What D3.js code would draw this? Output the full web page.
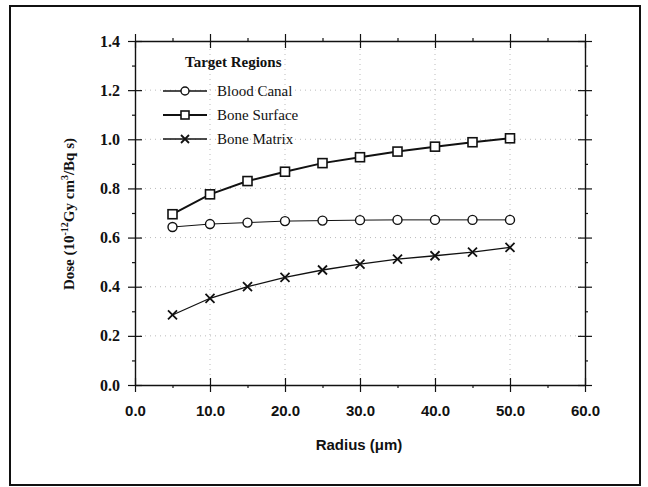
<!DOCTYPE html>
<html>
<head>
<meta charset="utf-8">
<script src="https://cdn.jsdelivr.net/npm/d3@7"></script>
<style>
  body { margin: 0; background: #fff; }
  svg { display: block; }
</style>
</head>
<body>
<script>
// data
const radius = [5, 10, 15, 20, 25, 30, 35, 40, 45, 50];
const bloodCanal = [0.643, 0.655, 0.661, 0.667, 0.669, 0.671, 0.672, 0.672, 0.672, 0.672];
const boneSurface = [0.695, 0.776, 0.830, 0.868, 0.903, 0.927, 0.950, 0.970, 0.988, 1.004];
const boneMatrix = [0.285, 0.353, 0.400, 0.438, 0.468, 0.492, 0.512, 0.526, 0.541, 0.560];
const seriesNames = ['Blood Canal', 'Bone Surface', 'Bone Matrix'];
const xTicks = [0, 10, 20, 30, 40, 50, 60];
const xMinor = [5, 15, 25, 35, 45, 55];
const yTicks = [0, 0.2, 0.4, 0.6, 0.8, 1.0, 1.2, 1.4];
const yMinor = [0.1, 0.3, 0.5, 0.7, 0.9, 1.1, 1.3];

const W = 648, H = 487;
const serif = '"Liberation Serif", "DejaVu Serif", serif';
const sans = '"Liberation Sans", Arial, sans-serif';

const svg = d3.select('body').append('svg')
    .attr('width', W).attr('height', H);

// outer frame
svg.append('rect')
    .attr('x', 10).attr('y', 6)
    .attr('width', 630).attr('height', 479)
    .attr('fill', 'none').attr('stroke', '#111').attr('stroke-width', 2);

const x = d3.scaleLinear().domain([0, 60]).range([135, 585]);
const y = d3.scaleLinear().domain([0, 1.4]).range([385, 41]);

// dotted grid
const grid = svg.append('g').attr('stroke', '#aaa').attr('stroke-width', 0.8)
    .attr('stroke-dasharray', '1,4');
grid.selectAll('.gx').data(xTicks.slice(1, -1)).enter().append('line')
    .attr('x1', d => x(d)).attr('x2', d => x(d))
    .attr('y1', y(0)).attr('y2', y(1.4));
grid.selectAll('.gy').data(yTicks.slice(1, -1)).enter().append('line')
    .attr('x1', x(0)).attr('x2', x(60))
    .attr('y1', d => y(d)).attr('y2', d => y(d));

// axes, major ticks cross the line, minor ticks point out
function styleAxis(g) {
    g.selectAll('path').attr('stroke', '#111').attr('stroke-width', 1.4);
    g.selectAll('line').attr('stroke', '#111').attr('stroke-width', 1.2);
}
const axBottom = svg.append('g').attr('transform', `translate(0,${y(0)})`)
    .call(d3.axisBottom(x).tickValues(xTicks).tickSize(7).tickPadding(13)
        .tickFormat(d3.format('.1f')).tickSizeOuter(0));
axBottom.selectAll('.tick line').attr('y1', -7);
axBottom.selectAll('text').attr('font-family', sans).attr('font-weight', 'bold')
    .attr('font-size', 15).attr('fill', '#111');
styleAxis(axBottom);
svg.append('g').attr('transform', `translate(0,${y(0)})`)
    .call(d3.axisBottom(x).tickValues(xMinor).tickSize(3).tickFormat('').tickSizeOuter(0))
    .call(g => g.select('path').remove()).call(styleAxis);

const axTop = svg.append('g').attr('transform', `translate(0,${y(1.4)})`)
    .call(d3.axisTop(x).tickValues(xTicks).tickSize(7).tickFormat('').tickSizeOuter(0));
axTop.selectAll('.tick line').attr('y1', 7);
styleAxis(axTop);
svg.append('g').attr('transform', `translate(0,${y(1.4)})`)
    .call(d3.axisTop(x).tickValues(xMinor).tickSize(3).tickFormat('').tickSizeOuter(0))
    .call(g => g.select('path').remove()).call(styleAxis);

const axLeft = svg.append('g').attr('transform', `translate(${x(0)},0)`)
    .call(d3.axisLeft(y).tickValues(yTicks).tickSize(7).tickPadding(8)
        .tickFormat(d3.format('.1f')).tickSizeOuter(0));
axLeft.selectAll('.tick line').attr('x1', 7);
axLeft.selectAll('text').attr('font-family', serif).attr('font-weight', 'bold')
    .attr('font-size', 16).attr('fill', '#111');
styleAxis(axLeft);
svg.append('g').attr('transform', `translate(${x(0)},0)`)
    .call(d3.axisLeft(y).tickValues(yMinor).tickSize(3).tickFormat('').tickSizeOuter(0))
    .call(g => g.select('path').remove()).call(styleAxis);

const axRight = svg.append('g').attr('transform', `translate(${x(60)},0)`)
    .call(d3.axisRight(y).tickValues(yTicks).tickSize(7).tickFormat('').tickSizeOuter(0));
axRight.selectAll('.tick line').attr('x1', -7);
styleAxis(axRight);
svg.append('g').attr('transform', `translate(${x(60)},0)`)
    .call(d3.axisRight(y).tickValues(yMinor).tickSize(3).tickFormat('').tickSizeOuter(0))
    .call(g => g.select('path').remove()).call(styleAxis);

// axis titles
svg.append('text')
    .attr('x', 359).attr('y', 450)
    .attr('text-anchor', 'middle')
    .attr('font-family', sans).attr('font-weight', 'bold').attr('font-size', 15)
    .attr('fill', '#111')
    .text('Radius  (\u03bcm)');

const yt = svg.append('text')
    .attr('transform', 'translate(74,214) rotate(-90)')
    .attr('text-anchor', 'middle')
    .attr('font-family', serif).attr('font-weight', 'bold').attr('font-size', 15)
    .attr('fill', '#111');
yt.append('tspan').text('Dose (10');
yt.append('tspan').attr('font-size', 10).attr('dy', -6).text('-12');
yt.append('tspan').attr('dy', 6).text('Gy cm');
yt.append('tspan').attr('font-size', 10).attr('dy', -6).text('3');
yt.append('tspan').attr('dy', 6).text('/Bq s)');

// markers
function drawMarker(g, kind, size) {
    const r = size / 2;
    if (kind === 0) {
        g.append('circle').attr('r', r).attr('fill', '#fff')
            .attr('stroke', '#111').attr('stroke-width', 1.4);
    } else if (kind === 1) {
        g.append('rect').attr('x', -r).attr('y', -r).attr('width', size).attr('height', size)
            .attr('fill', '#fff').attr('stroke', '#111').attr('stroke-width', 1.6);
    } else {
        g.append('path').attr('d', `M${-r},${-r}L${r},${r}M${-r},${r}L${r},${-r}`)
            .attr('stroke', '#111').attr('stroke-width', 1.8);
    }
}

const allSeries = [bloodCanal, boneSurface, boneMatrix];
const lineWidths = [1, 2, 1.3];
const line = d3.line().x((d, i) => x(radius[i])).y(d => y(d));

allSeries.forEach((vals, k) => {
    svg.append('path').datum(vals)
        .attr('d', line)
        .attr('fill', 'none').attr('stroke', '#111').attr('stroke-width', lineWidths[k]);
    svg.selectAll('.m' + k).data(vals).enter().append('g')
        .attr('transform', (d, i) => `translate(${x(radius[i])},${y(d)})`)
        .each(function () { drawMarker(d3.select(this), k, 9); });
});

// legend
svg.append('text')
    .attr('x', 185).attr('y', 67)
    .attr('font-family', serif).attr('font-weight', 'bold').attr('font-size', 15)
    .attr('fill', '#111')
    .text('Target Regions');

const legendY = d3.scalePoint().domain(seriesNames).range([91, 139]);
seriesNames.forEach((name, k) => {
    const ly = legendY(name);
    const item = svg.append('g');
    item.append('line').attr('x1', 163).attr('x2', 207).attr('y1', ly).attr('y2', ly)
        .attr('stroke', '#111').attr('stroke-width', k === 1 ? 1.8 : 1.3);
    const m = item.append('g').attr('transform', `translate(185,${ly})`);
    drawMarker(m, k, 8);
    item.append('text').attr('x', 217).attr('y', ly + 5)
        .attr('font-family', serif).attr('font-size', 15).attr('fill', '#111')
        .text(name);
});
</script>
</body>
</html>
